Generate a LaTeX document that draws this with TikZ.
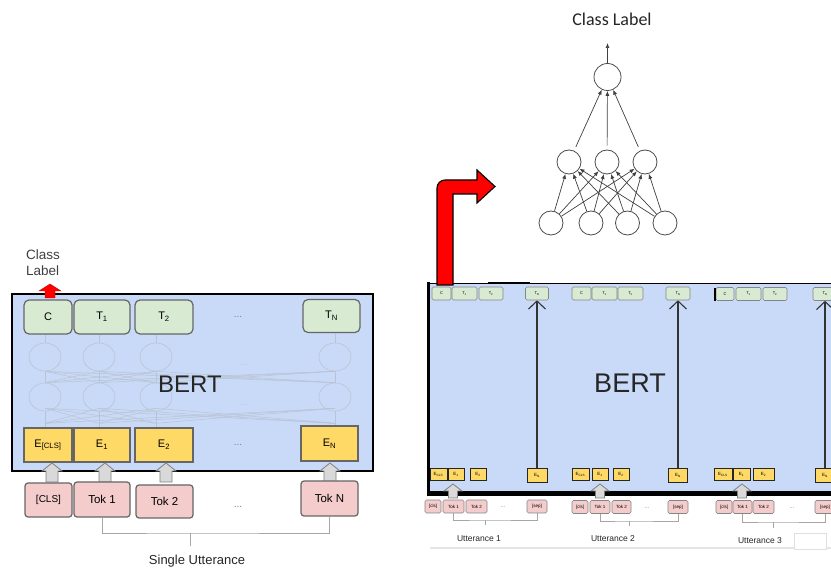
\documentclass[tikz,border=0pt]{standalone}
\usepackage{fontspec}
\setmainfont{Liberation Sans}
\newfontfamily\carlito{Carlito}
\usetikzlibrary{arrows.meta,shapes.geometric}
\definecolor{bertblue}{HTML}{C9DAF8}
\definecolor{tgreen}{HTML}{D9EAD3}
\definecolor{eyellow}{HTML}{FFD966}
\definecolor{tpink}{HTML}{F4CCCC}
\definecolor{boxgray}{HTML}{666666}
\definecolor{faint}{HTML}{B9C3D3}
\definecolor{arrgray}{HTML}{D9D9D9}
\newcommand\blkup[7]{%
  \draw[#7] ({#1-#4},#2) -- ({#1-#4},{#3+#6}) -- ({#1-#5},{#3+#6}) -- (#1,#3)
    -- ({#1+#5},{#3+#6}) -- ({#1+#4},{#3+#6}) -- ({#1+#4},#2) -- cycle;}
\begin{document}
\begin{tikzpicture}[x=1pt,y=-1pt,
  gbox/.style={draw=boxgray, line width=1.2pt, fill=tgreen, rounded corners=5pt, inner sep=0pt, font=\fontsize{11}{11}\selectfont},
  ybox/.style={draw=boxgray, line width=1.2pt, fill=eyellow, inner sep=0pt, font=\fontsize{11}{11}\selectfont},
  pbox/.style={draw=boxgray, line width=1.2pt, fill=tpink, rounded corners=3pt, inner sep=0pt, font=\fontsize{11.5}{11.5}\selectfont},
  fc/.style={ellipse, draw=faint, line width=0.6pt, minimum width=32pt, minimum height=28pt, inner sep=0pt},
  fl/.style={draw=faint, line width=0.5pt},
  dots/.style={text=gray, font=\fontsize{10}{10}\selectfont},
  sg/.style={draw=boxgray!80, line width=0.6pt, fill=tgreen, rounded corners=1.5pt, inner sep=0pt, minimum height=13pt, font=\fontsize{4}{4}\selectfont},
  sy/.style={draw=black!85, line width=0.8pt, fill=eyellow, inner sep=0pt, minimum height=12pt, font=\fontsize{4.5}{4.5}\selectfont},
  sp/.style={draw=boxgray!80, line width=0.6pt, fill=tpink, rounded corners=1.5pt, inner sep=0pt, minimum height=13pt, font=\fontsize{4.5}{4.5}\selectfont},
  varrow/.style={draw=black!80, line width=1.1pt, -{Straight Barb[length=8pt,width=17pt]}},
  brk/.style={draw=gray!70, line width=0.9pt},
  nn/.style={circle, draw=black!70, line width=0.8pt, fill=white, minimum size=24pt, inner sep=0pt},
  nnarrow/.style={draw=black!75, line width=0.7pt, -{Latex[length=5pt,width=4pt]}},
  utt/.style={font=\fontsize{8.5}{8.5}\selectfont, text=black!85}
]
\useasboundingbox (0,0) rectangle (831,569);
\fill[white] (0,0) rectangle (831,569);

% ================= LEFT =================
\node[draw=black, line width=2pt, fill=bertblue, minimum width=361pt, minimum height=177pt, inner sep=0pt] (lbert) at (192.5,382.5) {};

% faint internal network
\foreach \i/\x in {1/45,2/99,3/156,4/335} {
  \node[fc] (u\i) at (\x,357) {};
  \node[fc] (l\i) at (\x,397) {};
}
\node[text=faint, font=\fontsize{10}{10}\selectfont] (fd1) at (243,365) {...};
\node[text=faint, font=\fontsize{10}{10}\selectfont] (fd2) at (243,405) {...};

% green top boxes
\node[gbox, minimum width=48pt, minimum height=34pt] (lgC) at (48,317) {C};
\node[gbox, minimum width=56pt, minimum height=34pt] (lgT1) at (102,317) {T\textsubscript{1}};
\node[gbox, minimum width=58pt, minimum height=34pt] (lgT2) at (164,317) {T\textsubscript{2}};
\node[gbox, minimum width=57pt, minimum height=33pt] (lgTN) at (331.5,316) {T\textsubscript{N}};
\node[dots] (lgd) at (238,317) {...};

% yellow boxes
\node[ybox, minimum width=48pt, minimum height=34pt] (leC) at (48,445) {E\textsubscript{[CLS]}};
\node[ybox, minimum width=56pt, minimum height=34pt] (leT1) at (102,445) {E\textsubscript{1}};
\node[ybox, minimum width=58pt, minimum height=34pt] (leT2) at (164,445) {E\textsubscript{2}};
\node[ybox, minimum width=57pt, minimum height=35pt] (leTN) at (329.5,443.5) {E\textsubscript{N}};
\node[dots] (led) at (238,445) {...};

% faint lines
\foreach \i/\g in {1/C,2/T1,3/T2,4/TN} {
  \draw[fl] (u\i.north) -- (u\i.north |- lg\g.south);
  \draw[fl] (u\i.south) -- (l\i.north);
  \draw[fl] (l\i.south) -- (l\i.south |- le\g.north);
}
\foreach \i in {1,...,4} {
  \foreach \j in {1,...,4} {
    \ifnum\i=\j\else
      \draw[fl] (l\i.north) -- (u\j.south);
      \draw[fl] ([yshift=3pt]l\i.south) -- ([yshift=-12pt]l\j.south);
    \fi
  }
}

\node[font=\fontsize{24}{24}\selectfont, text=black!85] (lberttxt) at (190,384) {BERT};

% class label + red arrow
\node[align=left, anchor=north west, inner sep=0pt, font=\fontsize{13.5}{16}\selectfont, text=black!75] (lcl) at (26,250) {Class\\Label};
\blkup{50}{298}{284}{5}{11}{7}{fill=red, draw=red!80!black, line width=0.4pt}

% gray arrows
\foreach \x in {52,105,166,330} {
  \blkup{\x}{482}{463}{6}{10}{8}{fill=arrgray, draw=gray, line width=0.8pt}
}

% pink token boxes
\node[pbox, minimum width=47pt, minimum height=34pt, font=\fontsize{10}{10}\selectfont] (lpC) at (48.5,500) {[CLS]};
\node[pbox, minimum width=56pt, minimum height=35pt] (lpT1) at (102,499.5) {Tok 1};
\node[pbox, minimum width=57pt, minimum height=33pt] (lpT2) at (164.5,501.5) {Tok 2};
\node[pbox, minimum width=57pt, minimum height=35pt] (lpTN) at (329.5,498.5) {Tok N};
\node[dots] (lpd) at (238,507) {...};

\coordinate (su) at (190,533);
\draw[brk] (lpT1.south) |- (su) -| (lpTN.south);
\draw[brk] (su) -- ++(0,13);
\node[font=\fontsize{13}{13}\selectfont, text=black!85] (sutxt) at (197,561) {Single Utterance};

% ================= RIGHT =================
\node[fill=bertblue, minimum width=403pt, minimum height=210pt, inner sep=0pt, anchor=north west] (rbert) at (428,283) {};
\draw[line width=0.9pt] (rbert.north west) -- (rbert.north east);
\draw[line width=2pt] (488,283) -- (530,283);
\draw[line width=3pt] ([yshift=1pt]rbert.north west) -- ([yshift=1.5pt]rbert.south west);
\draw[line width=5pt] ([xshift=-1.5pt]rbert.south west) -- (rbert.south east);

\node[font=\fontsize{27}{27}\selectfont, text=black!85] (rberttxt) at (630,383) {BERT};

% green small boxes
\node[sg, minimum width=19pt] (r1C) at (441.5,293.5) {C};
\node[sg, minimum width=25pt] (r1T1) at (464.5,293.5) {T\textsubscript{1}};
\node[sg, minimum width=24pt] (r1T2) at (491,293.5) {T\textsubscript{2}};
\node[sg, minimum width=23pt] (r1TN) at (537,293.5) {T\textsubscript{N}};
\node[sg, minimum width=19pt] (r2C) at (581.5,293.5) {C};
\node[sg, minimum width=25pt] (r2T1) at (604.5,293.5) {T\textsubscript{1}};
\node[sg, minimum width=25pt] (r2T2) at (630.5,293.5) {T\textsubscript{2}};
\node[sg, minimum width=24pt] (r2TN) at (678,293.5) {T\textsubscript{N}};
\node[sg, minimum width=18pt] (r3C) at (725,294) {C};
\node[sg, minimum width=25pt] (r3T1) at (748.5,294) {T\textsubscript{1}};
\node[sg, minimum width=24pt] (r3T2) at (775,294) {T\textsubscript{2}};
\node[sg, minimum width=24pt] (r3TN) at (825,294) {T\textsubscript{N}};
\draw[line width=1.2pt] (715,288) -- (715,301);

% yellow small boxes
\node[sy, minimum width=17pt] (r1eC) at (438.5,474) {E\textsubscript{CLS}};
\node[sy, minimum width=16pt] (r1e1) at (456,474) {E\textsubscript{1}};
\node[sy, minimum width=16pt] (r1e2) at (478,474) {E\textsubscript{2}};
\node[sy, minimum width=20pt, minimum height=14pt] (r1eN) at (537,475) {E\textsubscript{N}};
\node[sy, minimum width=17pt] (r2eC) at (580.5,474) {E\textsubscript{CLS}};
\node[sy, minimum width=16pt] (r2e1) at (600,474) {E\textsubscript{1}};
\node[sy, minimum width=16pt] (r2e2) at (621,474) {E\textsubscript{2}};
\node[sy, minimum width=19pt, minimum height=14pt] (r2eN) at (678,475) {E\textsubscript{N}};
\node[sy, minimum width=18pt] (r3eC) at (723,474) {E\textsubscript{CLS}};
\node[sy, minimum width=17pt] (r3e1) at (741.5,474) {E\textsubscript{1}};
\node[sy, minimum width=21pt] (r3e2) at (763.5,474) {E\textsubscript{2}};
\node[sy, minimum width=19pt, minimum height=14pt] (r3eN) at (825,475) {E\textsubscript{N}};

% vertical arrows
\draw[varrow] (r1eN.north) -- (r1TN.south);
\draw[varrow] (r2eN.north) -- (r2TN.south);
\draw[varrow] (r3eN.north) -- (r3TN.south);

% gray arrows over bottom border
\foreach \x in {453,600,742} {
  \blkup{\x}{498}{484}{4.5}{9}{7}{fill=arrgray, draw=gray, line width=0.8pt}
}

% pink small boxes
\node[sp, minimum width=16pt] (r1pC) at (433,506.5) {[cls]};
\node[sp, minimum width=21pt] (r1p1) at (453.5,506.5) {Tok 1};
\node[sp, minimum width=21pt] (r1p2) at (476.5,506.5) {Tok 2};
\node[dots, font=\fontsize{6}{6}\selectfont] (r1pd) at (503,507) {...};
\node[sp, minimum width=20pt] (r1pN) at (537,506.5) {[sep]};
\node[sp, minimum width=16pt] (r2pC) at (580,507) {[cls]};
\node[sp, minimum width=20pt] (r2p1) at (600,507) {Tok 1};
\node[sp, minimum width=19pt] (r2p2) at (621.5,507) {Tok 2};
\node[dots, font=\fontsize{6}{6}\selectfont] (r2pd) at (647,508) {...};
\node[sp, minimum width=20pt] (r2pN) at (678,507) {[sep]};
\node[sp, minimum width=16pt] (r3pC) at (724,507) {[cls]};
\node[sp, minimum width=19pt] (r3p1) at (742.5,507) {Tok 1};
\node[sp, minimum width=21pt] (r3p2) at (763.5,507) {Tok 2};
\node[dots, font=\fontsize{6}{6}\selectfont] (r3pd) at (792,508) {...};
\node[sp, minimum width=20pt] (r3pN) at (825,507) {[sep]};

% brackets
\coordinate (b1) at (485,520);
\coordinate (b2) at (629,521);
\coordinate (b3) at (773,522);
\draw[brk] (r1p1.south) |- (b1) -| (r1pN.south);
\draw[brk] (b1) -- ++(0,5);
\draw[brk] (r2p1.south) |- (b2) -| (r2pN.south);
\draw[brk] (b2) -- ++(0,5);
\draw[brk] (r3p1.south) |- (b3) -| (r3pN.south);
\draw[brk] (b3) -- ++(0,6);

\node[utt] (u1txt) at (479,539) {Utterance 1};
\node[utt] (u2txt) at (613,539) {Utterance 2};
\node[utt] (u3txt) at (760,541) {Utterance 3};
\draw[draw=gray!20, line width=1.5pt] (430,548) -- (831,548);
\node[draw=gray!25, fill=white, line width=0.6pt, minimum width=32pt, minimum height=16pt, inner sep=0pt] (wbox) at (810,541) {};

% big red arrow
\draw[fill=red, draw=black, line width=1.1pt]
  (437,285) [rounded corners=8pt] -- (437,180) [sharp corners] -- (477,180) -- (477,170)
  -- (495,186.5) -- (477,203) -- (477,194) -- (453,194) -- (453,285) -- cycle;

% neural network
\node[nn, minimum size=27pt] (out) at (607.5,77) {};
\node[nn] (h1) at (569,162) {};
\node[nn] (h2) at (607,162) {};
\node[nn] (h3) at (645,162) {};
\node[nn] (i1) at (551,223) {};
\node[nn] (i2) at (591,223) {};
\node[nn] (i3) at (627.5,223) {};
\node[nn] (i4) at (665,223) {};
\foreach \h in {1,2,3} {
  \draw[nnarrow, shorten <=4pt] (h\h) -- (out);
  \foreach \i in {1,2,3,4} {
    \draw[nnarrow] (i\i) -- (h\h);
  }
}
\coordinate (clsTop) at (607.5,43);
\draw[nnarrow] (out) -- (clsTop);
\node[font=\carlito\fontsize{18}{18}\selectfont, text=black!85] (clslbl) at (612,19) {Class Label};

\end{tikzpicture}
\end{document}
